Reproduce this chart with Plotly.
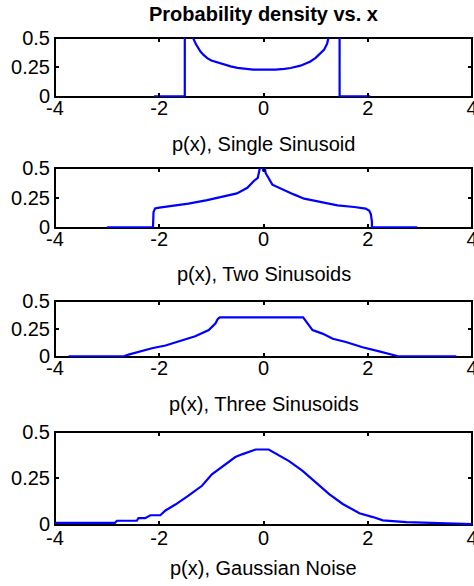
import plotly.graph_objects as go

# ---- data ----
x_single = [-2.1, -1.51, -1.51, -1.45, -1.4, -1.35, -1.3, -1.27, -1.21, -1.15, -1.08, -1.0, -0.89, -0.75,
            -0.63, -0.5, -0.35, -0.2, 0.0, 0.23, 0.4, 0.52, 0.71, 0.9, 1.0, 1.06, 1.16, 1.22, 1.26, 1.32,
            1.4, 1.46, 1.46, 2.05]
y_single = [0, 0, 1.0, 0.8, 0.62, 0.5, 0.45, 0.426, 0.384, 0.355, 0.328, 0.308, 0.291, 0.272,
            0.257, 0.245, 0.235, 0.229, 0.229, 0.229, 0.236, 0.243, 0.263, 0.299, 0.33, 0.356, 0.398, 0.45, 0.5, 0.6,
            0.8, 1.0, 0, 0]

x_two = [-3.0, -2.12, -2.11, -2.08, -2.0, -1.69, -1.44, -1.08, -0.70, -0.51, -0.31, -0.19, -0.11, -0.06,
         -0.03, 0.0, 0.02, 0.04, 0.17, 0.26, 0.42, 0.58, 0.78, 1.1, 1.42, 1.74, 1.96, 2.03, 2.06, 2.08, 2.08, 2.95]
y_two = [0, 0, 0.13, 0.16, 0.167, 0.186, 0.2, 0.23, 0.264, 0.286, 0.333, 0.389, 0.417, 0.52,
         0.52, 0.47, 0.52, 0.458, 0.36, 0.342, 0.306, 0.278, 0.242, 0.214, 0.186, 0.172, 0.158, 0.14, 0.11, 0.05, 0, 0]

x_three = [-3.74, -2.69, -2.59, -2.43, -2.14, -1.88, -1.56, -1.31, -1.05, -0.92, -0.88, -0.84, 0.76, 0.85,
           0.94, 1.13, 1.33, 1.58, 1.90, 2.22, 2.48, 2.6, 3.7]
y_three = [0, 0, 0.016, 0.037, 0.074, 0.099, 0.145, 0.182, 0.238, 0.299, 0.335, 0.352, 0.352, 0.299,
           0.238, 0.206, 0.16, 0.13, 0.083, 0.046, 0.016, 0, 0]

x_gauss = [-4.0, -2.85, -2.81, -2.43, -2.4, -2.27, -2.17, -1.98, -1.88, -1.69, -1.44, -1.18, -0.99, -0.73,
           -0.54, -0.4, -0.28, -0.15, 0.1, 0.27, 0.38, 0.49, 0.75, 1.0, 1.26, 1.52, 1.84, 2.1, 2.29, 2.74, 3.7, 4.0]
y_gauss = [0.007, 0.007, 0.018, 0.018, 0.032, 0.032, 0.048, 0.048, 0.074, 0.106, 0.154, 0.208, 0.27, 0.324,
           0.364, 0.38, 0.394, 0.405, 0.405, 0.378, 0.362, 0.342, 0.289, 0.226, 0.163, 0.109, 0.059, 0.038, 0.02,
           0.011, 0.005, 0.0]

x_ticks = [-4, -2, 0, 2, 4]
x_tick_text = ["-4", "-2", "0", "2", "4"]
y_ticks = [0, 0.25, 0.5]
y_tick_text = ["0", "0.25", "0.5"]
labels = ["p(x), Single Sinusoid", "p(x), Two Sinusoids", "p(x), Three Sinusoids", "p(x), Gaussian Noise"]
main_title = "Probability density vs. x"

# ---- layout geometry (pixels) ----
W, H = 474, 586
ML, MR = 55, 2
FONT = "Liberation Sans, Arial, sans-serif"
FS = 20
panels_px = [(38, 97), (168, 228), (301, 357), (432, 525)]  # top, bottom
label_center_px = [143.5, 273.5, 403.5, 567.5]
Y_LOW = -0.005  # tiny offset so the zero-level curve stays visible on the frame

series = [(x_single, y_single), (x_two, y_two), (x_three, y_three), (x_gauss, y_gauss)]

fig = go.Figure()
annotations = []
shapes = []
for i, ((xs, ys), (top, bot)) in enumerate(zip(series, panels_px)):
    k = "" if i == 0 else str(i + 1)
    fig.add_trace(go.Scatter(x=xs, y=ys, mode="lines", line=dict(color="#0000ff", width=2.2),
                             xaxis="x" + k, yaxis="y" + k, showlegend=False, hoverinfo="skip"))
    ax_common = dict(showline=False, mirror="ticks",
                     ticks="inside", ticklen=4, tickwidth=1.5, tickcolor="black",
                     showgrid=False, zeroline=False, automargin=False, ticklabeloverflow="allow",
                     tickfont=dict(family=FONT, size=FS, color="black"))
    fig.layout["xaxis" + k] = dict(ax_common, range=[-4, 4], tickvals=x_ticks, ticktext=x_tick_text,
                                    anchor="y" + k, domain=[0, 1],
                                    ticklabelstandoff=(-1 if i == 3 else -3))
    fig.layout["yaxis" + k] = dict(ax_common, range=[Y_LOW, 0.5], tickvals=y_ticks, ticktext=y_tick_text,
                                    anchor="x" + k, domain=[1 - bot / H, 1 - top / H], ticklabelstandoff=4)
    shapes.append(dict(type="rect", xref="paper", yref="paper", x0=0, x1=1,
                       y0=1 - bot / H, y1=1 - top / H, line=dict(color="black", width=2),
                       fillcolor="rgba(0,0,0,0)", layer="below"))
    annotations.append(dict(text=labels[i], x=0.5, xref="paper", y=1 - label_center_px[i] / H, yref="paper",
                            xanchor="center", yanchor="middle", showarrow=False,
                            font=dict(family=FONT, size=FS, color="black")))

annotations.append(dict(text="<b>" + main_title + "</b>", x=0.5, xref="paper", y=1 - 14 / H, yref="paper",
                        xanchor="center", yanchor="middle", showarrow=False,
                        font=dict(family=FONT, size=FS, color="black")))

fig.update_layout(width=W, height=H, margin=dict(l=ML, r=MR, t=0, b=0, pad=0),
                  paper_bgcolor="white", plot_bgcolor="white", annotations=annotations, shapes=shapes)

fig.write_html("out.html")
